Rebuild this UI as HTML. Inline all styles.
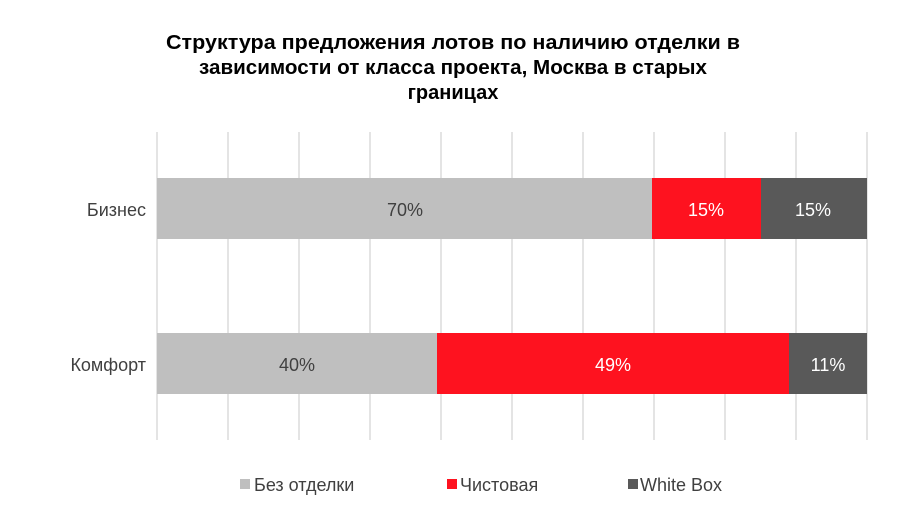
<!DOCTYPE html>
<html><head><meta charset="utf-8"><style>
body{margin:0;background:#fff}
svg{display:block}
text{font-family:"Liberation Sans",Arial,sans-serif}
</style></head><body>
<svg width="900" height="530" viewBox="0 0 900 530">
<rect width="900" height="530" fill="#fff"/>
<g font-weight="bold" font-size="20" text-anchor="middle" fill="#000">
<text x="453" y="49" textLength="574" lengthAdjust="spacingAndGlyphs">Структура предложения лотов по наличию отделки в</text>
<text x="453" y="74" textLength="508" lengthAdjust="spacingAndGlyphs">зависимости от класса проекта, Москва в старых</text>
<text x="453" y="99">границах</text>
</g>
<g stroke="#dcdcdc" stroke-width="1.5">
<line x1="157" y1="132" x2="157" y2="440"/><line x1="228" y1="132" x2="228" y2="440"/>
<line x1="299" y1="132" x2="299" y2="440"/><line x1="370" y1="132" x2="370" y2="440"/>
<line x1="441" y1="132" x2="441" y2="440"/><line x1="512" y1="132" x2="512" y2="440"/>
<line x1="583" y1="132" x2="583" y2="440"/><line x1="654" y1="132" x2="654" y2="440"/>
<line x1="725" y1="132" x2="725" y2="440"/><line x1="796" y1="132" x2="796" y2="440"/>
<line x1="867" y1="132" x2="867" y2="440"/>
</g>
<rect x="157" y="178" width="495" height="61" fill="#bfbfbf"/>
<rect x="652" y="178" width="109" height="61" fill="#fe121f"/>
<rect x="761" y="178" width="106" height="61" fill="#595959"/>
<rect x="157" y="333" width="280" height="61" fill="#bfbfbf"/>
<rect x="437" y="333" width="352" height="61" fill="#fe121f"/>
<rect x="789" y="333" width="78" height="61" fill="#595959"/>
<g font-size="18" text-anchor="middle">
<text x="405" y="216" fill="#404040">70%</text>
<text x="706" y="216" fill="#fff">15%</text>
<text x="813" y="216" fill="#fff">15%</text>
<text x="297" y="371" fill="#404040">40%</text>
<text x="613" y="371" fill="#fff">49%</text>
<text x="828" y="371" fill="#fff">11%</text>
</g>
<g font-size="18" fill="#404040" text-anchor="end">
<text x="146" y="216">Бизнес</text>
<text x="146" y="371">Комфорт</text>
</g>
<g font-size="18" fill="#404040">
<rect x="240" y="479" width="10" height="10" fill="#bfbfbf"/><text x="254" y="491">Без отделки</text>
<rect x="447" y="479" width="10" height="10" fill="#fe121f"/><text x="460" y="491">Чистовая</text>
<rect x="628" y="479" width="10" height="10" fill="#595959"/><text x="640" y="491">White Box</text>
</g>
</svg>
</body></html>
